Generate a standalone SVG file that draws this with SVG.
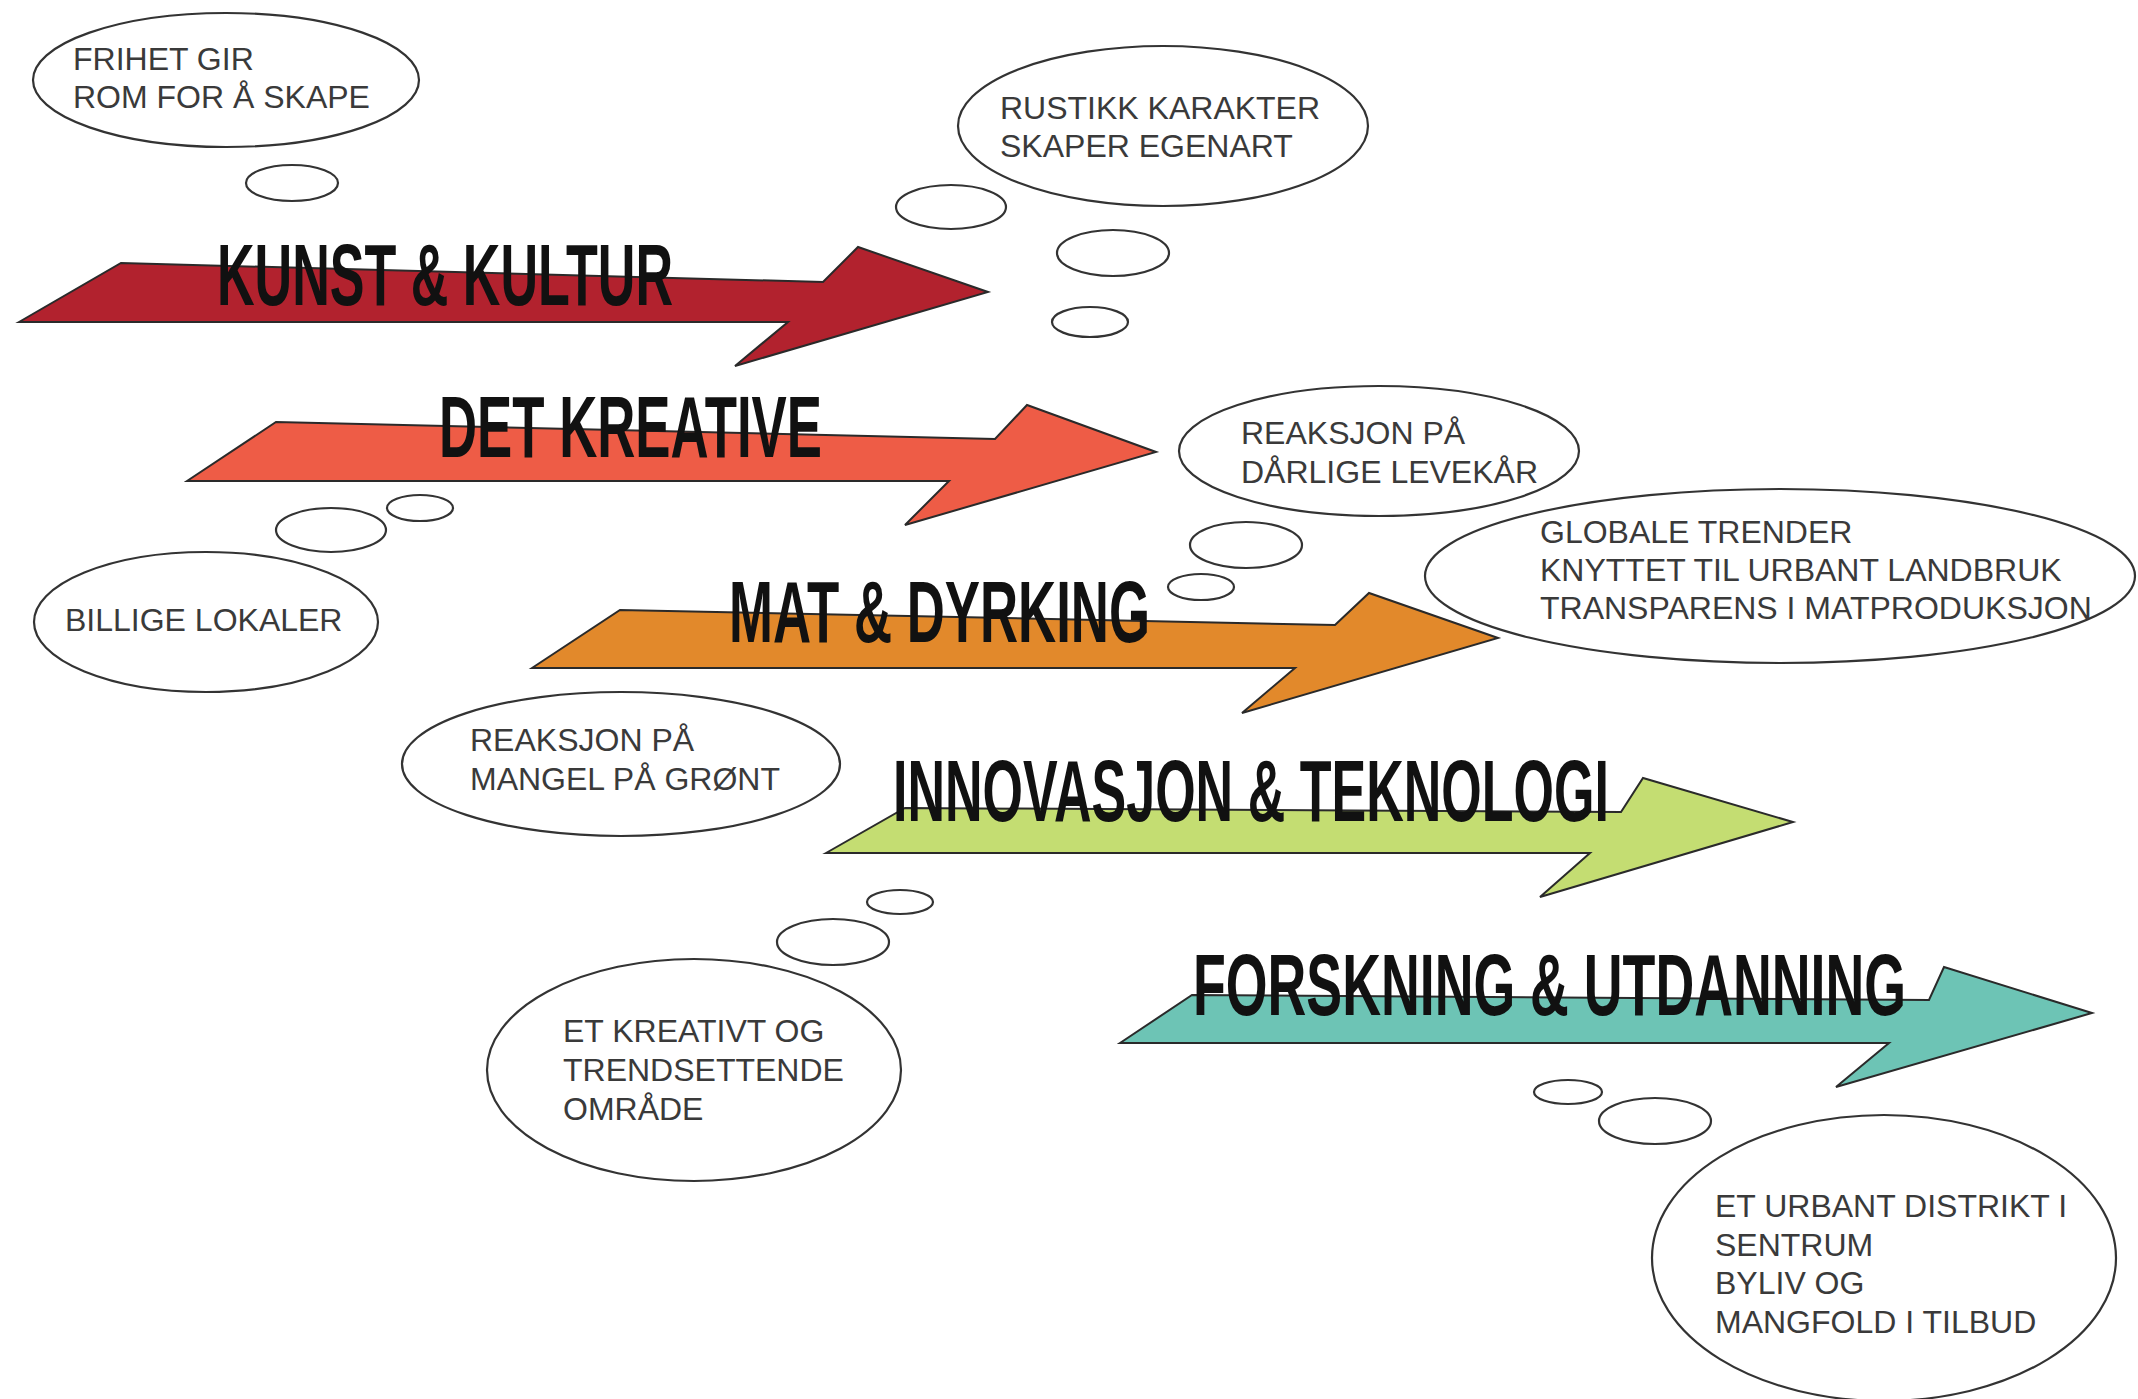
<svg xmlns="http://www.w3.org/2000/svg" width="2138" height="1399" viewBox="0 0 2138 1399">
<style>
.bubble{fill:#fff;stroke:#333;stroke-width:2.2}
.lbl{font-family:"Liberation Sans",Arial,sans-serif;font-size:32px;fill:#3a3a3a}
.arrow{stroke:#2a2a2a;stroke-width:2;stroke-linejoin:miter}
.title{font-family:"Liberation Sans Narrow","Liberation Sans",Arial,sans-serif;font-weight:bold;font-size:88px;fill:#111}
</style>
<rect width="2138" height="1399" fill="#fff"/>

<g id="connectors">
  <ellipse class="bubble" cx="292" cy="183" rx="46" ry="18"/>
  <ellipse class="bubble" cx="951" cy="207" rx="55" ry="22"/>
  <ellipse class="bubble" cx="1113" cy="253" rx="56" ry="23"/>
  <ellipse class="bubble" cx="1090" cy="322" rx="38" ry="15"/>
  <ellipse class="bubble" cx="331" cy="530" rx="55" ry="22"/>
  <ellipse class="bubble" cx="420" cy="508" rx="33" ry="13"/>
  <ellipse class="bubble" cx="1246" cy="545" rx="56" ry="23"/>
  <ellipse class="bubble" cx="1201" cy="587" rx="33" ry="13"/>
  <ellipse class="bubble" cx="833" cy="942" rx="56" ry="23"/>
  <ellipse class="bubble" cx="900" cy="902" rx="33" ry="12"/>
  <ellipse class="bubble" cx="1568" cy="1092" rx="34" ry="12"/>
  <ellipse class="bubble" cx="1655" cy="1121" rx="56" ry="23"/>
</g>

<g id="arrow-kunst">
  <polygon class="arrow" fill="#B2222E" points="19,322 121,263 823,282 858,247 988,292 735,366 788,322"/>
  <text class="title" x="217" y="305" textLength="456" lengthAdjust="spacingAndGlyphs">KUNST &amp; KULTUR</text>
</g>

<g id="arrow-kreative">
  <polygon class="arrow" fill="#EE5C46" points="187,481 276,422 995,439 1027,405 1156,452 905,525 949,481"/>
  <text class="title" x="439" y="457" textLength="383" lengthAdjust="spacingAndGlyphs">DET KREATIVE</text>
</g>

<g id="arrow-mat">
  <polygon class="arrow" fill="#E2892B" points="532,668 620,610 1335,625 1369,593 1498,638 1242,713 1295,668"/>
  <text class="title" x="729" y="642" textLength="421" lengthAdjust="spacingAndGlyphs">MAT &amp; DYRKING</text>
</g>

<g id="arrow-innovasjon">
  <polygon class="arrow" fill="#C4DD72" points="826,853 905,808 1621,812 1643,778 1793,822 1540,897 1590,853"/>
  <text class="title" x="893" y="821" textLength="716" lengthAdjust="spacingAndGlyphs">INNOVASJON &amp; TEKNOLOGI</text>
</g>

<g id="arrow-forskning">
  <polygon class="arrow" fill="#6DC4B5" points="1120,1043 1192,995 1929,1000 1944,967 2092,1013 1836,1087 1889,1043"/>
  <text class="title" x="1193" y="1015" textLength="713" lengthAdjust="spacingAndGlyphs">FORSKNING &amp; UTDANNING</text>
</g>

<g id="bubble-frihet">
  <ellipse class="bubble" cx="226" cy="80" rx="193" ry="67"/>
  <text class="lbl" x="73" y="70">FRIHET GIR</text>
  <text class="lbl" x="73" y="108">ROM FOR Å SKAPE</text>
</g>

<g id="bubble-rustikk">
  <ellipse class="bubble" cx="1163" cy="126" rx="205" ry="80"/>
  <text class="lbl" x="1000" y="119">RUSTIKK KARAKTER</text>
  <text class="lbl" x="1000" y="157">SKAPER EGENART</text>
</g>

<g id="bubble-billige">
  <ellipse class="bubble" cx="206" cy="622" rx="172" ry="70"/>
  <text class="lbl" x="65" y="631">BILLIGE LOKALER</text>
</g>

<g id="bubble-darlige">
  <ellipse class="bubble" cx="1379" cy="451" rx="200" ry="65"/>
  <text class="lbl" x="1241" y="444">REAKSJON PÅ</text>
  <text class="lbl" x="1241" y="483">DÅRLIGE LEVEKÅR</text>
</g>

<g id="bubble-globale">
  <ellipse class="bubble" cx="1780" cy="576" rx="355" ry="87"/>
  <text class="lbl" x="1540" y="543">GLOBALE TRENDER</text>
  <text class="lbl" x="1540" y="581">KNYTTET TIL URBANT LANDBRUK</text>
  <text class="lbl" x="1540" y="619">TRANSPARENS I MATPRODUKSJON</text>
</g>

<g id="bubble-mangel">
  <ellipse class="bubble" cx="621" cy="764" rx="219" ry="72"/>
  <text class="lbl" x="470" y="751">REAKSJON PÅ</text>
  <text class="lbl" x="470" y="790">MANGEL PÅ GRØNT</text>
</g>

<g id="bubble-kreativt">
  <ellipse class="bubble" cx="694" cy="1070" rx="207" ry="111"/>
  <text class="lbl" x="563" y="1042">ET KREATIVT OG</text>
  <text class="lbl" x="563" y="1081">TRENDSETTENDE</text>
  <text class="lbl" x="563" y="1120">OMRÅDE</text>
</g>

<g id="bubble-urbant">
  <ellipse class="bubble" cx="1884" cy="1258" rx="232" ry="143"/>
  <text class="lbl" x="1715" y="1217">ET URBANT DISTRIKT I</text>
  <text class="lbl" x="1715" y="1256">SENTRUM</text>
  <text class="lbl" x="1715" y="1294">BYLIV OG</text>
  <text class="lbl" x="1715" y="1333">MANGFOLD I TILBUD</text>
</g>
</svg>
